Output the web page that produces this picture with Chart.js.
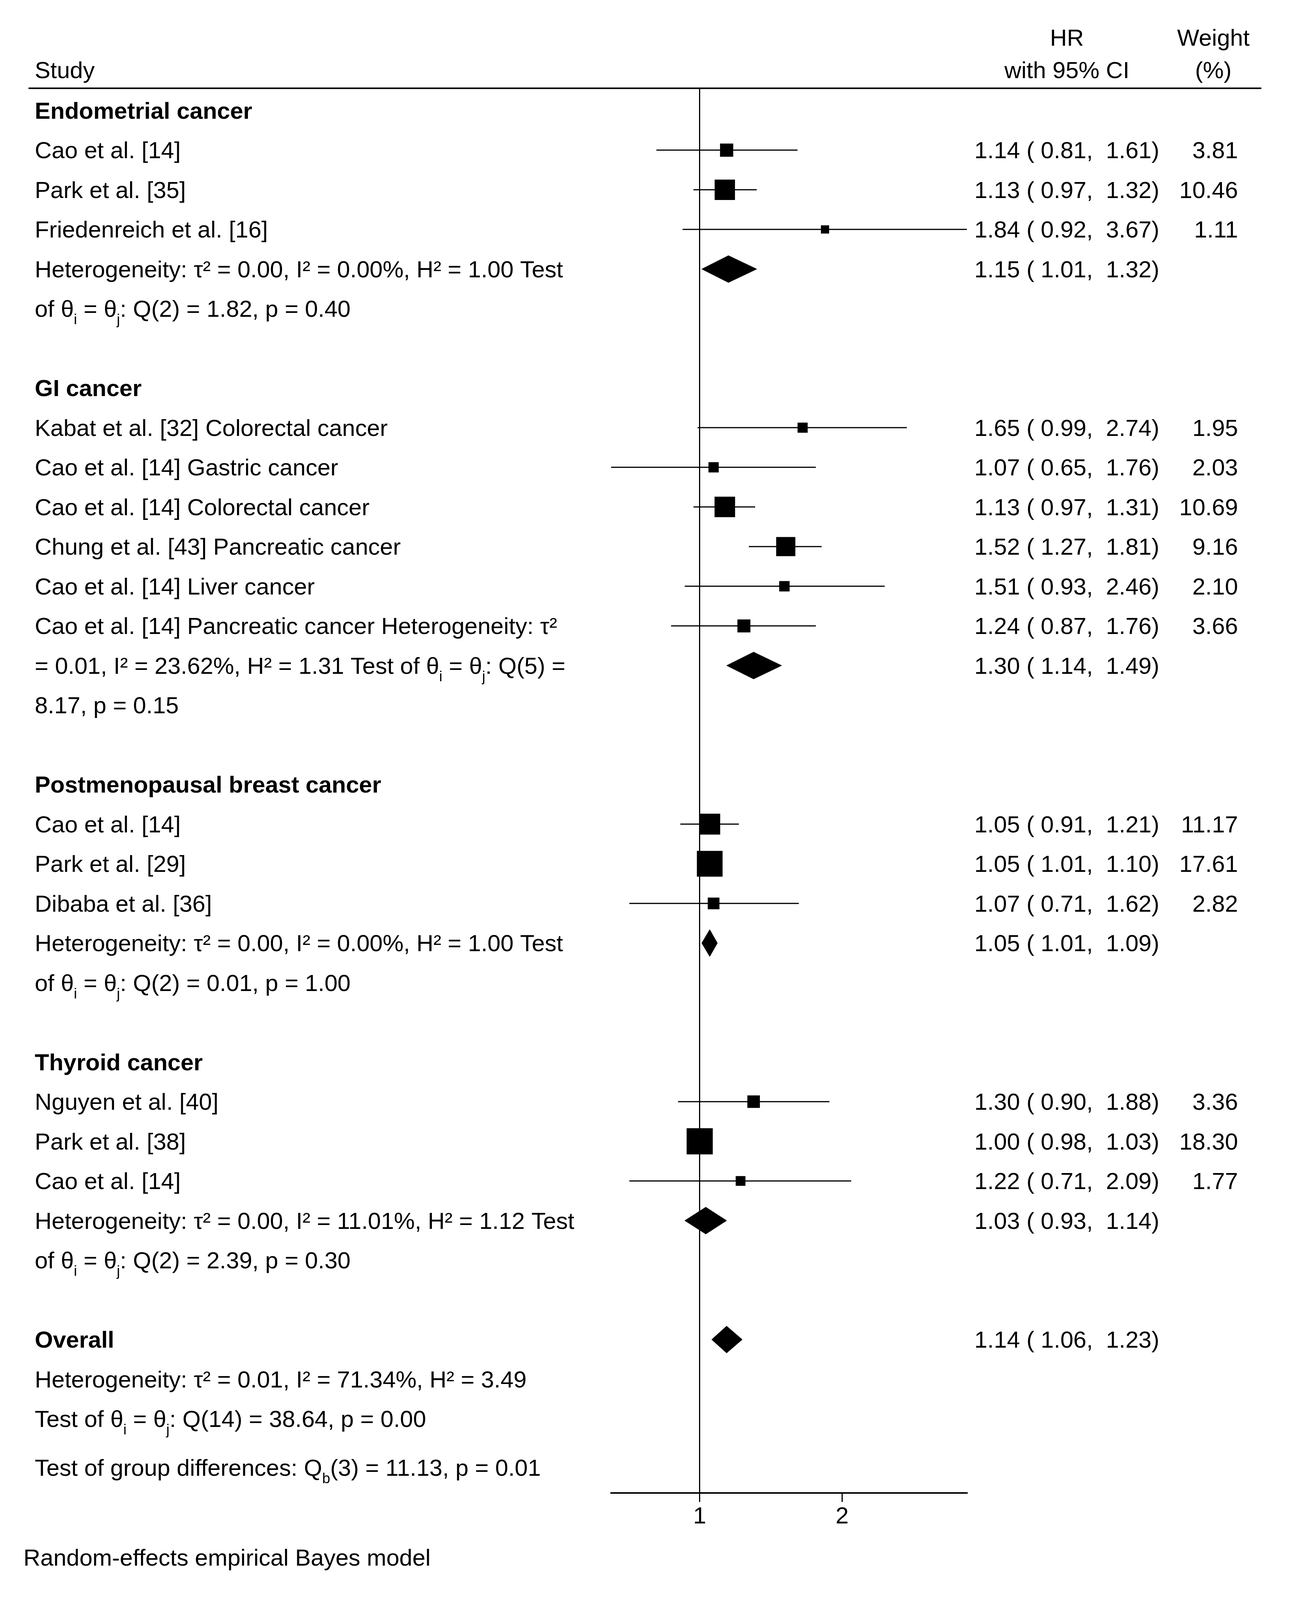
<!DOCTYPE html>
<html>
<head>
<meta charset="utf-8">
<script src="https://cdn.jsdelivr.net/npm/chart.js@4.4.0/dist/chart.umd.min.js"></script>
<style>
  html, body { margin: 0; padding: 0; background: #fff; }
  #wrap { width: 3311px; height: 4108px; }
</style>
</head>
<body>
<div id="wrap"><canvas id="forest" width="3311" height="4108"></canvas></div>
<script>
// Study level data (HR with 95% CI and weight %)
const groups = ['Endometrial cancer', 'GI cancer', 'Postmenopausal breast cancer', 'Thyroid cancer'];
const studyGroup = [0, 0, 0, 1, 1, 1, 1, 1, 1, 2, 2, 2, 3, 3, 3];
const hr     = [1.14, 1.13, 1.84, 1.65, 1.07, 1.13, 1.52, 1.51, 1.24, 1.05, 1.05, 1.07, 1.30, 1.00, 1.22];
const lower  = [0.81, 0.97, 0.92, 0.99, 0.65, 0.97, 1.27, 0.93, 0.87, 0.91, 1.01, 0.71, 0.90, 0.98, 0.71];
const upper  = [1.61, 1.32, 3.67, 2.74, 1.76, 1.31, 1.81, 2.46, 1.76, 1.21, 1.10, 1.62, 1.88, 1.03, 2.09];
const weight = [3.81, 10.46, 1.11, 1.95, 2.03, 10.69, 9.16, 2.10, 3.66, 11.17, 17.61, 2.82, 3.36, 18.30, 1.77];

// Pooled estimates: one per group, then overall
const pooledHr    = [1.15, 1.30, 1.05, 1.03, 1.14];
const pooledLower = [1.01, 1.14, 1.01, 0.93, 1.06];
const pooledUpper = [1.32, 1.49, 1.09, 1.14, 1.23];

const tickValues = [1, 2];

// Left text column, one entry per row ("**" = bold, "_{x}" = subscript)
const leftColumn = [
  '**Endometrial cancer',
  'Cao et al. [14]',
  'Park et al. [35]',
  'Friedenreich et al. [16]',
  'Heterogeneity: τ² = 0.00, I² = 0.00%, H² = 1.00 Test',
  'of θ_{i} = θ_{j}: Q(2) = 1.82, p = 0.40',
  '',
  '**GI cancer',
  'Kabat et al. [32] Colorectal cancer',
  'Cao et al. [14] Gastric cancer',
  'Cao et al. [14] Colorectal cancer',
  'Chung et al. [43] Pancreatic cancer',
  'Cao et al. [14] Liver cancer',
  'Cao et al. [14] Pancreatic cancer Heterogeneity: τ²',
  '= 0.01, I² = 23.62%, H² = 1.31 Test of θ_{i} = θ_{j}: Q(5) =',
  '8.17, p = 0.15',
  '',
  '**Postmenopausal breast cancer',
  'Cao et al. [14]',
  'Park et al. [29]',
  'Dibaba et al. [36]',
  'Heterogeneity: τ² = 0.00, I² = 0.00%, H² = 1.00 Test',
  'of θ_{i} = θ_{j}: Q(2) = 0.01, p = 1.00',
  '',
  '**Thyroid cancer',
  'Nguyen et al. [40]',
  'Park et al. [38]',
  'Cao et al. [14]',
  'Heterogeneity: τ² = 0.00, I² = 11.01%, H² = 1.12 Test',
  'of θ_{i} = θ_{j}: Q(2) = 2.39, p = 0.30',
  '',
  '**Overall',
  'Heterogeneity: τ² = 0.01, I² = 71.34%, H² = 3.49',
  'Test of θ_{i} = θ_{j}: Q(14) = 38.64, p = 0.00'
];
const groupTestText = 'Test of group differences: Q_{b}(3) = 11.13, p = 0.01';
const footnote = 'Random-effects empirical Bayes model';

// Row layout: header, studies, pooled, then 2 note/blank rows
const studyRows = [];
const pooledRows = [];
let row = 0;
groups.forEach((g, gi) => {
  studyGroup.forEach((sg) => { if (sg === gi) studyRows.push(++row); });
  pooledRows.push(++row);
  row += 3;
});
pooledRows.push(row); // overall sits on its own header row

const FONT = '"Liberation Sans", Arial, sans-serif';
const FS = 60;
const fmt = (v) => v.toFixed(2);
const ciText = (e, lo, hi) => `${fmt(e)} ( ${fmt(lo)},  ${fmt(hi)})`;

const datasets = [];

// confidence interval lines
hr.forEach((v, i) => {
  datasets.push({
    data: [{ x: lower[i], y: studyRows[i] }, { x: upper[i], y: studyRows[i] }],
    showLine: true,
    borderColor: '#000',
    borderWidth: 3,
    pointRadius: 0
  });
});

// weighted squares
datasets.push({
  data: hr.map((v, i) => ({ x: v, y: studyRows[i] })),
  pointStyle: 'rect',
  pointRadius: (ctx) => (14.25 * Math.sqrt(weight[ctx.dataIndex]) + 6) / Math.SQRT2,
  backgroundColor: '#000',
  borderWidth: 0
});

// pooled diamonds
const halfH = 0.34;
pooledHr.forEach((v, i) => {
  const r = pooledRows[i];
  datasets.push({
    data: [
      { x: pooledLower[i], y: r },
      { x: v, y: r - halfH },
      { x: pooledUpper[i], y: r },
      { x: v, y: r + halfH },
      { x: pooledLower[i], y: r }
    ],
    showLine: true,
    fill: 'shape',
    backgroundColor: '#000',
    borderColor: '#000',
    borderWidth: 1,
    pointRadius: 0,
    tension: 0
  });
});

function drawRich(ctx, str, x, y, bold) {
  const parts = str.split(/(_\{[^}]*\})/);
  let cx = x;
  parts.forEach((p) => {
    if (!p) return;
    if (p.startsWith('_{')) {
      const t = p.slice(2, -1);
      ctx.font = `${bold ? 'bold ' : ''}${Math.round(FS * 0.62)}px ${FONT}`;
      ctx.fillText(t, cx, y + 19);
      cx += ctx.measureText(t).width;
    } else {
      ctx.font = `${bold ? 'bold ' : ''}${FS}px ${FONT}`;
      ctx.fillText(p, cx, y);
      cx += ctx.measureText(p).width;
    }
  });
}

const textPlugin = {
  id: 'forestText',
  afterDraw(chart) {
    const { ctx, chartArea, scales } = chart;
    const y = scales.y;
    const base = (r) => y.getPixelForValue(r) + 21;
    ctx.save();
    ctx.fillStyle = '#000';
    ctx.textBaseline = 'alphabetic';
    ctx.font = `${FS}px ${FONT}`;

    // column headers
    ctx.textAlign = 'left';
    ctx.fillText('Study', 89, 200);
    ctx.textAlign = 'center';
    ctx.fillText('HR', 2732, 117);
    ctx.fillText('with 95% CI', 2732, 200);
    ctx.fillText('Weight', 3107, 117);
    ctx.fillText('(%)', 3107, 200);

    // header rule
    ctx.strokeStyle = '#000';
    ctx.lineWidth = 4;
    ctx.beginPath();
    ctx.moveTo(73, chartArea.top + 1);
    ctx.lineTo(3230, chartArea.top + 1);
    ctx.stroke();

    // left column
    ctx.textAlign = 'left';
    leftColumn.forEach((line, r) => {
      if (!line) return;
      const bold = line.startsWith('**');
      drawRich(ctx, bold ? line.slice(2) : line, 89, base(r), bold);
    });
    drawRich(ctx, groupTestText, 89, base(leftColumn.length + 0.23), false);

    // HR and weight columns
    ctx.font = `${FS}px ${FONT}`;
    hr.forEach((v, i) => {
      ctx.textAlign = 'left';
      ctx.fillText(ciText(v, lower[i], upper[i]), 2495, base(studyRows[i]));
      ctx.textAlign = 'right';
      ctx.fillText(fmt(weight[i]), 3170, base(studyRows[i]));
    });
    pooledHr.forEach((v, i) => {
      ctx.textAlign = 'left';
      ctx.fillText(ciText(v, pooledLower[i], pooledUpper[i]), 2495, base(pooledRows[i]));
    });

    // footnote
    ctx.textAlign = 'left';
    ctx.fillText(footnote, 60, 4008);
    ctx.restore();
  }
};

new Chart(document.getElementById('forest'), {
  type: 'scatter',
  data: { datasets },
  options: {
    responsive: false,
    devicePixelRatio: 1,
    animation: false,
    events: [],
    layout: { padding: { left: 1565, right: 835, top: 225, bottom: 0 } },
    plugins: { legend: { display: false }, tooltip: { enabled: false } },
    scales: {
      x: {
        type: 'logarithmic',
        position: 'bottom',
        min: Math.min(...lower, ...pooledLower),
        max: Math.max(...upper, ...pooledUpper),
        afterBuildTicks: (scale) => { scale.ticks = tickValues.map((v) => ({ value: v })); },
        afterFit: (scale) => { scale.height = 4108 - 3822; },
        border: { display: true, color: '#000', width: 4 },
        grid: {
          color: (c) => (c.tick && c.tick.value === 1 ? '#000' : 'rgba(0,0,0,0)'),
          lineWidth: 3,
          drawTicks: true,
          tickLength: 23,
          tickColor: '#000',
          tickWidth: 3
        },
        ticks: {
          color: '#000',
          font: { family: FONT, size: FS },
          padding: 2,
          autoSkip: false,
          maxRotation: 0,
          callback: (v) => String(v)
        }
      },
      y: {
        type: 'linear',
        display: false,
        reverse: true,
        min: -0.57,
        max: 34.87
      }
    }
  },
  plugins: [textPlugin]
});
</script>
</body>
</html>
